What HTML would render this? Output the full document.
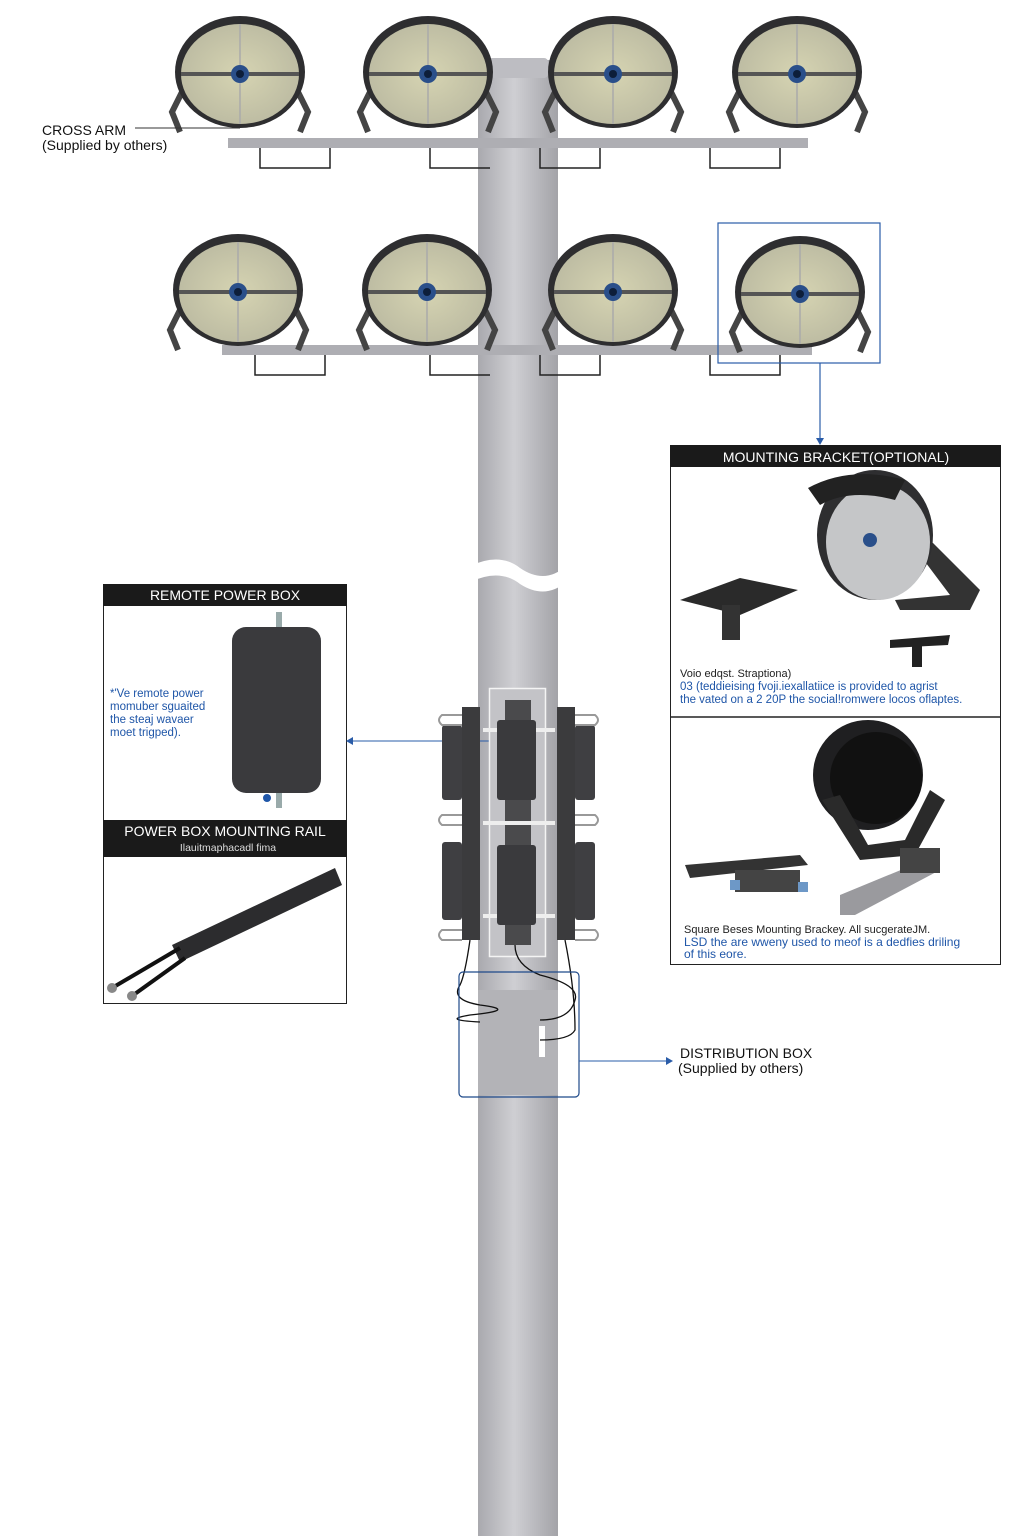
<!DOCTYPE html>
<html><head><meta charset="utf-8"><style>
html,body{margin:0;padding:0;background:#fff;}
svg{display:block;}
text{font-family:"Liberation Sans",sans-serif;}
</style></head><body>
<svg width="1024" height="1536" viewBox="0 0 1024 1536" xmlns="http://www.w3.org/2000/svg">
<defs>
<linearGradient id="pole" x1="0" x2="1">
<stop offset="0" stop-color="#a9a9ae"/><stop offset="0.45" stop-color="#cfcfd3"/><stop offset="1" stop-color="#a3a3a8"/>
</linearGradient>
<radialGradient id="face" cx="0.5" cy="0.5" r="0.6">
<stop offset="0" stop-color="#d6d4b2"/><stop offset="1" stop-color="#b9b8a0"/>
</radialGradient>
<symbol id="light" viewBox="-75 -62 150 124" overflow="visible">
<path d="M-58 20 L-68 40 L-60 60 M58 20 L68 40 L60 60" stroke="#444" stroke-width="6" fill="none"/>
<ellipse cx="0" cy="0" rx="65" ry="56" fill="#2e2e30"/>
<ellipse cx="0" cy="2" rx="59" ry="50" fill="url(#face)"/>
<line x1="-59" y1="2" x2="59" y2="2" stroke="#555" stroke-width="4"/>
<line x1="0" y1="-48" x2="0" y2="52" stroke="#aaa" stroke-width="1.5"/>
<circle cx="0" cy="2" r="9" fill="#2a4f8a"/><circle cx="0" cy="2" r="4" fill="#0d1e3a"/>
</symbol>
</defs>

<!-- pole -->
<rect x="478" y="60" width="80" height="1476" fill="url(#pole)"/>
<rect x="488" y="58" width="60" height="20" rx="4" fill="#bdbdc2"/>
<path d="M470 566 Q500 552 520 568 Q545 585 566 566 L566 582 Q545 600 520 584 Q500 568 470 582Z" fill="#fff"/>

<!-- crossarms -->
<rect x="228" y="138" width="580" height="10" fill="#aeaeb3"/>
<rect x="222" y="345" width="590" height="10" fill="#aeaeb3"/>
<g stroke="#222" stroke-width="1.5" fill="none">
<path d="M260 148 v20 h70 v-20 M430 148 v20 h60 M540 148 v20 h60 v-20 M710 148 v20 h70 v-20"/>
<path d="M255 355 v20 h70 v-20 M430 355 v20 h60 M540 355 v20 h60 v-20 M710 355 v20 h70 v-20"/>
</g>

<!-- lights -->
<use href="#light" x="165" y="10" width="150" height="124"/>
<use href="#light" x="353" y="10" width="150" height="124"/>
<use href="#light" x="538" y="10" width="150" height="124"/>
<use href="#light" x="722" y="10" width="150" height="124"/>
<use href="#light" x="163" y="228" width="150" height="124"/>
<use href="#light" x="352" y="228" width="150" height="124"/>
<use href="#light" x="538" y="228" width="150" height="124"/>
<use href="#light" x="725" y="230" width="150" height="124"/>

<!-- cross arm label -->
<text x="42" y="135" font-size="14" fill="#111">CROSS ARM</text>
<text x="42" y="150" font-size="14" fill="#111">(Supplied by others)</text>
<line x1="135" y1="128" x2="240" y2="128" stroke="#333" stroke-width="1"/>

<!-- highlight box + arrow -->
<rect x="718" y="223" width="162" height="140" fill="none" stroke="#2a5ca8" stroke-width="1.2"/>
<line x1="820" y1="363" x2="820" y2="440" stroke="#2a5ca8" stroke-width="1.2"/>
<path d="M816 438 L820 445 L824 438Z" fill="#2a5ca8"/>

<!-- mounting bracket panel -->
<rect x="670.5" y="445.5" width="330" height="519" fill="#fff" stroke="#222" stroke-width="1"/>
<rect x="670" y="445" width="331" height="22" fill="#1a1a1a"/>
<text x="836" y="462" font-size="14" fill="#fff" text-anchor="middle">MOUNTING BRACKET(OPTIONAL)</text>
<line x1="670" y1="717" x2="1001" y2="717" stroke="#222" stroke-width="1.5"/>
<!-- upper illustration -->
<path d="M680 600 L740 578 L798 590 L740 615Z" fill="#2a2a2a"/>
<rect x="722" y="605" width="18" height="35" fill="#333"/>
<path d="M930 540 L980 590 L970 610 L900 610 L895 600 L950 595 L920 555Z" fill="#333"/>
<ellipse cx="875" cy="535" rx="58" ry="65" fill="#2e2e30"/>
<ellipse cx="878" cy="542" rx="52" ry="58" fill="#c5c6c8"/>
<circle cx="870" cy="540" r="7" fill="#2a4f8a"/>
<path d="M808 488 Q850 465 905 480 L895 500 Q850 488 820 505Z" fill="#222"/>
<path d="M890 640 L950 635 L948 645 L890 648Z" fill="#222"/><rect x="912" y="645" width="10" height="22" fill="#222"/>
<text x="680" y="677" font-size="11" fill="#222">Voio edqst. Straptiona)</text>
<text x="680" y="690" font-size="11.5" fill="#1f56a8">03 (teddieising fvoji.iexallatiice is provided to agrist</text>
<text x="680" y="703" font-size="11.5" fill="#1f56a8">the vated on a 2 20P the social!romwere locos oflaptes.</text>
<!-- lower illustration -->
<circle cx="868" cy="775" r="55" fill="#1f1f21"/>
<circle cx="876" cy="778" r="46" fill="#111"/>
<path d="M822 800 L860 860 L915 855 L945 800 L930 790 L905 840 L868 845 L840 795Z" fill="#2a2a2a"/>
<path d="M685 865 L800 855 L808 865 L690 878Z" fill="#333"/>
<rect x="735" y="870" width="65" height="22" fill="#444"/>
<rect x="730" y="880" width="10" height="10" fill="#6d98c7"/><rect x="798" y="882" width="10" height="10" fill="#6d98c7"/>
<path d="M840 895 L925 860 L940 870 L855 915 L840 915Z" fill="#9a9a9e"/>
<rect x="900" y="848" width="40" height="25" fill="#444"/>
<text x="684" y="933" font-size="11" fill="#222">Square Beses Mounting Brackey. All sucgerateJM.</text>
<text x="684" y="946" font-size="12" fill="#1f56a8">LSD the are wweny used to meof is a dedfies driling</text>
<text x="684" y="958" font-size="12" fill="#1f56a8">of this eore.</text>

<!-- remote power box panel -->
<rect x="103.5" y="584.5" width="243" height="419" fill="#fff" stroke="#222" stroke-width="1"/>
<rect x="103" y="584" width="244" height="22" fill="#1a1a1a"/>
<text x="225" y="600" font-size="14" fill="#fff" text-anchor="middle">REMOTE POWER BOX</text>
<rect x="276" y="612" width="6" height="22" fill="#9aa"/>
<rect x="276" y="790" width="6" height="18" fill="#9aa"/>
<rect x="232" y="627" width="89" height="166" rx="14" fill="#3a3a3d"/>
<circle cx="267" cy="798" r="4" fill="#1f56a8"/>
<text x="110" y="697" font-size="11.5" fill="#1f56a8">*'Ve remote power</text>
<text x="110" y="710" font-size="11.5" fill="#1f56a8">momuber sguaited</text>
<text x="110" y="723" font-size="11.5" fill="#1f56a8">the steaj wavaer</text>
<text x="110" y="736" font-size="11.5" fill="#1f56a8">moet trigped).</text>
<rect x="103" y="820" width="244" height="37" fill="#1a1a1a"/>
<text x="225" y="836" font-size="14" fill="#fff" text-anchor="middle">POWER BOX MOUNTING RAIL</text>
<text x="228" y="851" font-size="10.5" fill="#ddd" text-anchor="middle" font-family="Liberation Serif,serif">Ilauitmaphacadl fima</text>
<path d="M172 945 L335 868 L342 885 L180 962Z" fill="#2c2c2e"/>
<line x1="180" y1="948" x2="112" y2="988" stroke="#111" stroke-width="4"/>
<line x1="185" y1="958" x2="132" y2="996" stroke="#111" stroke-width="4"/>
<circle cx="112" cy="988" r="5" fill="#888"/><circle cx="132" cy="996" r="5" fill="#888"/>
<line x1="347" y1="741" x2="490" y2="741" stroke="#2a5ca8" stroke-width="1"/>
<path d="M353 737 L346 741 L353 745Z" fill="#2a5ca8"/>

<!-- power boxes on pole -->
<rect x="489.5" y="688.5" width="56" height="268" fill="#c3c3c7" stroke="#f4f4f4" stroke-width="1.5"/>
<rect x="505" y="700" width="26" height="245" fill="#4a4a4c"/>
<rect x="462" y="707" width="18" height="233" fill="#3b3b3d"/>
<rect x="557" y="707" width="18" height="233" fill="#3b3b3d"/>
<rect x="442" y="725" width="20" height="75" rx="3" fill="#3f3f42"/>
<rect x="442" y="842" width="20" height="78" rx="3" fill="#3f3f42"/>
<rect x="575" y="725" width="20" height="75" rx="3" fill="#3f3f42"/>
<rect x="575" y="842" width="20" height="78" rx="3" fill="#3f3f42"/>
<g fill="#eee"><rect x="483" y="728" width="72" height="4"/><rect x="483" y="821" width="72" height="4"/><rect x="483" y="914" width="72" height="4"/></g>
<rect x="497" y="720" width="39" height="80" rx="3" fill="#3a3a3d"/>
<rect x="497" y="845" width="39" height="80" rx="3" fill="#3a3a3d"/>
<g fill="none" stroke="#999" stroke-width="2">
<path d="M462 715 h-20 q-6 5 0 10 h20 M462 815 h-20 q-6 5 0 10 h20 M462 930 h-20 q-6 5 0 10 h20"/>
<path d="M575 715 h20 q6 5 0 10 h-20 M575 815 h20 q6 5 0 10 h-20 M575 930 h20 q6 5 0 10 h-20"/>
</g>

<!-- distribution box -->
<rect x="478" y="990" width="80" height="105" fill="#b3b3b7"/>
<rect x="539" y="1026" width="6" height="31" fill="#fff"/>
<g fill="none" stroke="#111" stroke-width="1.3">
<path d="M470 940 Q465 975 460 985 Q450 1000 480 1005 Q520 1010 470 1015 Q440 1020 480 1022"/>
<path d="M515 945 Q515 965 540 975 Q580 985 575 1000 Q570 1020 540 1020"/>
<path d="M565 940 Q575 990 575 1030 Q570 1040 540 1040"/>
</g>
<rect x="459" y="972" width="120" height="125" fill="none" stroke="#1f4a8a" stroke-width="1.2" rx="4"/>
<line x1="579" y1="1061" x2="668" y2="1061" stroke="#2a5ca8" stroke-width="1"/>
<path d="M666 1057 L673 1061 L666 1065Z" fill="#2a5ca8"/>
<text x="680" y="1058" font-size="14" fill="#111">DISTRIBUTION BOX</text>
<text x="678" y="1073" font-size="14" fill="#111">(Supplied by others)</text>
</svg>
</body></html>
